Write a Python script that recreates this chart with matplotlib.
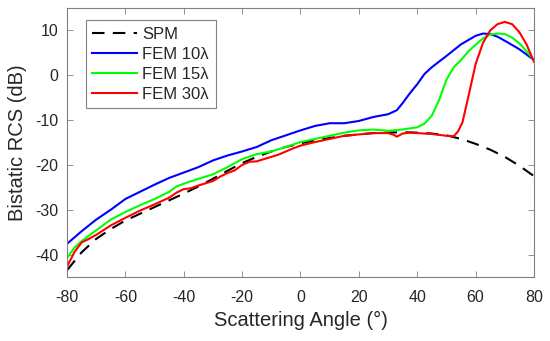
import matplotlib
matplotlib.use("Agg")
import matplotlib.pyplot as plt

plt.rcParams['font.family'] = ['Liberation Sans', 'DejaVu Sans']
plt.rcParams['axes.unicode_minus'] = False

x_spm = [-80, -75, -70, -65, -60, -55, -50, -45, -40, -35, -30, -25, -20, -15, -10, -5,
         0, 5, 10, 15, 20, 25, 30, 35, 40, 45, 50, 55, 60, 65, 70, 75, 80]
spm = [-43.5, -39.5, -36.5, -34.3, -32.4, -30.9, -29.4, -27.9, -26.4, -24.8, -23.1, -21.3,
       -19.6, -18.2, -17.0, -16.0, -15.2, -14.5, -14.0, -13.5, -13.2, -12.9, -12.8, -12.7,
       -12.8, -13.0, -13.4, -14.2, -15.3, -16.6, -18.2, -20.2, -22.5]

x_fem10 = [-80, -75, -70, -65, -60, -55, -50, -45, -40, -35, -30, -25, -20, -15, -10, -5,
           0, 5, 10, 15, 20, 25, 30, 33, 35, 37.5, 40, 42.5, 45, 50, 55, 60, 62.5, 65,
           67.5, 70, 75, 80]
fem10 = [-37.6, -34.8, -32.2, -30.0, -27.6, -26.0, -24.4, -22.9, -21.7, -20.5, -19.0, -17.9,
         -17.0, -16.0, -14.5, -13.4, -12.3, -11.3, -10.7, -10.7, -10.2, -9.3, -8.7, -7.8,
         -6.2, -4.0, -2.0, 0.3, 1.8, 4.3, 6.9, 8.8, 9.3, 9.2, 8.6, 7.7, 5.8, 3.4]

x_fem15 = [-80, -77.5, -75, -70, -65, -60, -55, -50, -45, -42.5, -40, -35, -30, -25, -20,
           -15, -10, -5, 0, 5, 10, 15, 20, 25, 30, 35, 40, 42.5, 45, 47.5, 50, 52.5, 55,
           57.5, 60, 62.5, 65, 67.5, 70, 72.5, 75, 77.5, 80]
fem15 = [-40.8, -38.5, -37.0, -34.6, -32.2, -30.5, -29.0, -27.6, -26.0, -24.8, -24.2, -23.1,
         -22.1, -20.5, -18.7, -17.6, -17.0, -16.0, -14.9, -14.2, -13.5, -12.8, -12.3, -12.1,
         -12.4, -12.1, -11.6, -10.8, -9.0, -5.5, -1.0, 1.8, 3.4, 5.3, 6.8, 8.2, 9.1, 9.3,
         9.2, 8.4, 7.1, 5.3, 3.4]

x_fem30 = [-80, -77.5, -75, -72.5, -70, -65, -60, -55, -50, -45, -42.5, -40, -37.5, -35,
           -30, -27.5, -25, -22.5, -20, -17.5, -15, -12.5, -10, -7.5, -5, -2.5, 0, 2.5, 5,
           10, 15, 20, 25, 30, 32, 33, 35, 37.5, 40, 45, 50, 52.5, 54, 55.5, 57.5, 60, 62.5,
           65, 67.5, 70, 72.5, 75, 77.5, 80]
fem30 = [-42.7, -39.5, -37.3, -36.5, -35.6, -33.5, -31.8, -30.2, -28.8, -27.3, -26.2, -25.4,
         -25.2, -24.6, -23.6, -22.6, -21.8, -21.2, -20.0, -19.3, -19.2, -18.7, -18.2, -17.7,
         -17.0, -16.3, -15.7, -15.3, -14.9, -14.2, -13.5, -13.2, -12.9, -12.9, -13.3, -13.7,
         -13.0, -12.8, -12.9, -13.1, -13.5, -13.6, -12.5, -10.5, -4.8, 2.5, 7.2, 10.0, 11.4,
         11.9, 11.4, 9.6, 6.8, 3.0]

x_ticks = [-80, -60, -40, -20, 0, 20, 40, 60, 80]
y_ticks = [-40, -30, -20, -10, 0, 10]

fig = plt.figure(figsize=(5.5, 3.41), dpi=100)
ax = fig.add_axes([0.1218, 0.1877, 0.8491, 0.7888])

ax.plot(x_spm, spm, color='black', lw=1.5, dashes=(6, 4), label='SPM')
ax.plot(x_fem10, fem10, color='#0000ff', lw=1.5, label='FEM 10λ')
ax.plot(x_fem15, fem15, color='#00ff00', lw=1.5, label='FEM 15λ')
ax.plot(x_fem30, fem30, color='#ff0000', lw=1.5, label='FEM 30λ')

ax.set_xlim(-80, 80)
ax.set_ylim(-45, 15)
ax.set_xticks(x_ticks)
ax.set_yticks(y_ticks)
ax.tick_params(direction='in', top=True, right=True, length=4, width=0.6,
               color='#808080', labelcolor='#262626', labelsize=11.5)
ax.tick_params(axis='x', pad=9.5)
ax.tick_params(axis='y', pad=6)
for s in ax.spines.values():
    s.set_color('#808080')
    s.set_linewidth(0.8)

ax.set_xlabel('Scattering Angle (°)', fontsize=14.5, color='#262626', labelpad=4)
ax.set_ylabel('Bistatic RCS (dB)', fontsize=14.5, color='#262626', labelpad=6)

leg = ax.legend(loc='upper left', bbox_to_anchor=(0.04, 0.955), fontsize=12,
                frameon=True, fancybox=False, edgecolor='#808080', framealpha=1,
                handlelength=2.7, handletextpad=0.3, borderpad=0.4, labelspacing=0.3,
                borderaxespad=0)
leg.get_frame().set_linewidth(0.8)
for t in leg.get_texts():
    t.set_color('#262626')

fig.savefig('out.png', dpi=100)
